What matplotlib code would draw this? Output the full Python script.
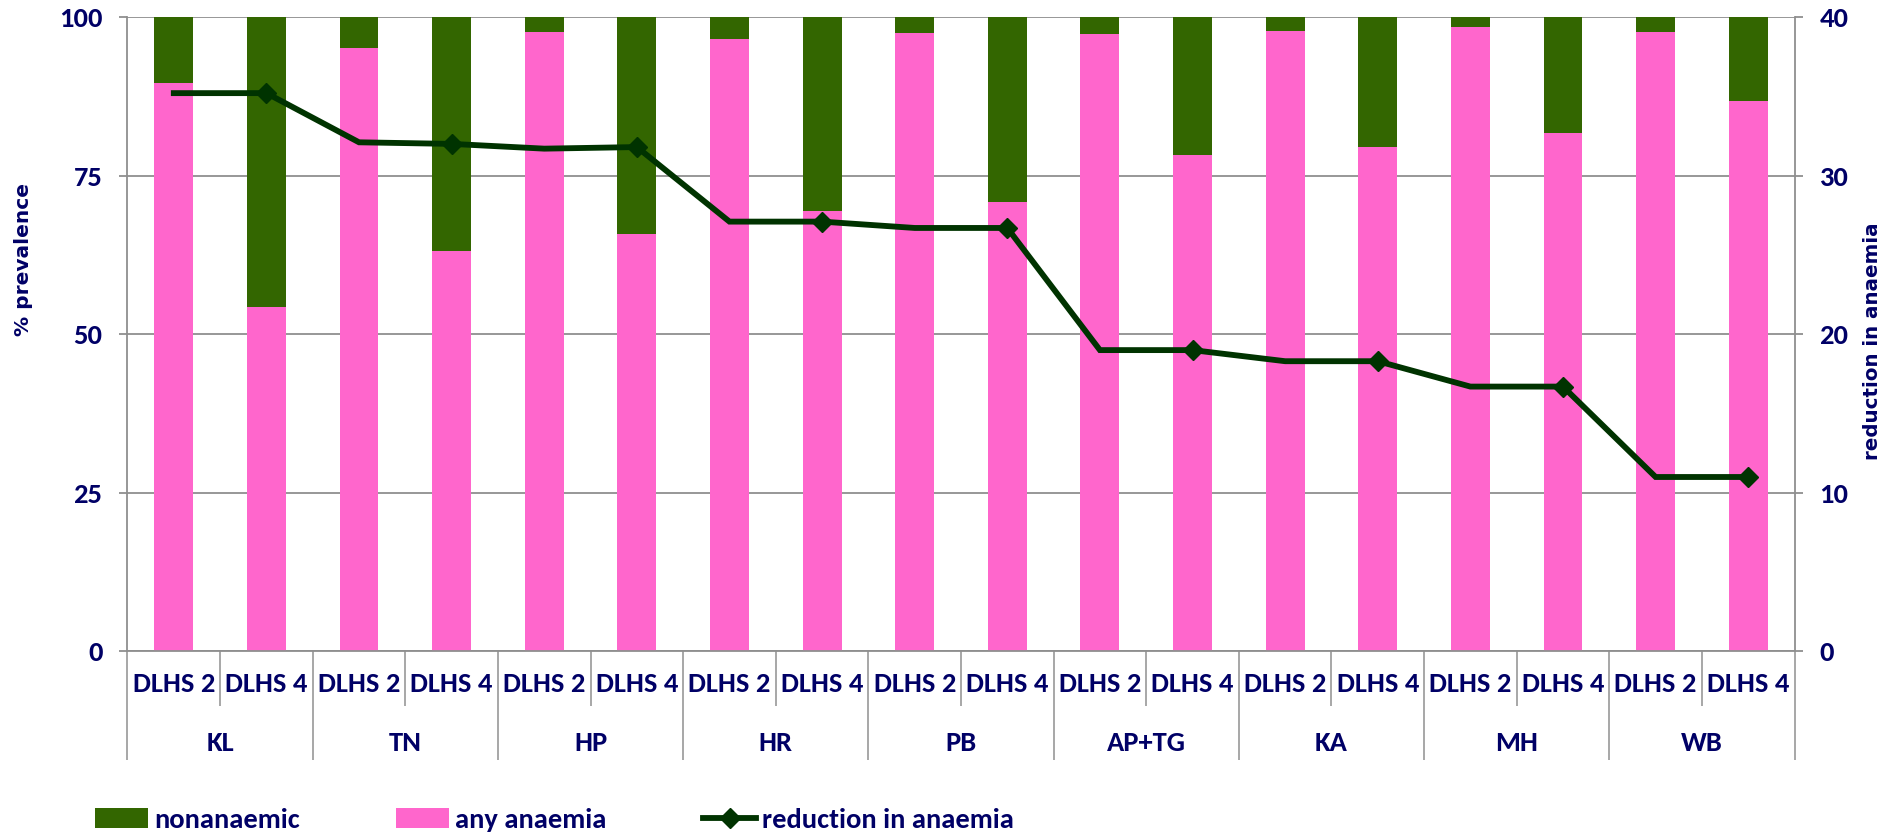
import matplotlib
matplotlib.use("Agg")
import matplotlib.pyplot as plt
from matplotlib import font_manager
from matplotlib.patches import Patch
from matplotlib.lines import Line2D
import numpy as np

states = ['KL', 'TN', 'HP', 'HR', 'PB', 'AP+TG', 'KA', 'MH', 'WB']
rounds = ['DLHS 2', 'DLHS 4']

# one value per bar: state x round, in order
any_anaemia = [89.6, 54.3, 95.1, 63.1, 97.6, 65.8, 96.6, 69.5, 97.5,
               70.8, 97.3, 78.3, 97.8, 79.5, 98.5, 81.7, 97.7, 86.7]
nonanaemic = [10.4, 45.7, 4.9, 36.9, 2.4, 34.2, 3.4, 30.5, 2.5,
              29.2, 2.7, 21.7, 2.2, 20.5, 1.5, 18.3, 2.3, 13.3]
reduction = [35.2, 35.2, 32.1, 32.0, 31.7, 31.8, 27.1, 27.1, 26.7,
             26.7, 19.0, 19.0, 18.3, 18.3, 16.7, 16.7, 11.0, 11.0]

GREEN = '#336600'
PINK = '#FF66CC'
LINE = '#003300'
NAVY = '#000066'
GRID = '#8f8f8f'

# compact sans for ticks and legend, pick the first one installed
names = {f.name for f in font_manager.fontManager.ttflist}
narrow = 'DejaVu Sans'
for cand in ['Carlito', 'Liberation Sans Narrow', 'Lato', 'Roboto']:
    if cand in names:
        narrow = cand
        break
plt.rcParams['font.family'] = [narrow, 'DejaVu Sans']
plt.rcParams['font.weight'] = 'bold'

FS = 20.5

fig = plt.figure(figsize=(18.86, 8.33), dpi=100)
ax = fig.add_axes([0.0676, 0.2179, 0.8839, 0.7617])

x = np.arange(len(any_anaemia))
bw = 0.42
ax.bar(x, any_anaemia, bw, color=PINK, zorder=2, label='any anaemia')
ax.bar(x, nonanaemic, bw, bottom=any_anaemia, color=GREEN, zorder=2, label='nonanaemic')

ax.set_xlim(-0.5, len(x) - 0.5)
ax.set_ylim(0, 100)
ax.set_yticks([0, 25, 50, 75, 100])
ax.yaxis.grid(True, color=GRID, lw=1.3, zorder=0)
ax.set_axisbelow(True)

ax.set_xticks(x)
ax.set_xticklabels([rounds[i % 2] for i in x])
ax.tick_params(axis='x', length=0, pad=15, labelsize=FS, labelcolor=NAVY)
ax.tick_params(axis='y', length=6, width=1.3, color=GRID, pad=12,
               labelsize=FS, labelcolor=NAVY)

for side in ['left', 'right', 'bottom']:
    ax.spines[side].set_color(GRID)
    ax.spines[side].set_linewidth(1.3)
ax.spines['top'].set_visible(False)

# category separators below the axis
trans = ax.get_xaxis_transform()
n_states = len(states)
inner = [2 * i + 0.5 for i in range(n_states)]
outer = [2 * i - 0.5 for i in range(n_states + 1)]
ax.vlines(inner, -0.086, 0, transform=trans, color=GRID, lw=1.1, clip_on=False)
ax.vlines(outer, -0.171, 0, transform=trans, color=GRID, lw=1.1, clip_on=False)
for i, s in enumerate(states):
    ax.text(2 * i + 0.5, -0.144, s, transform=trans, ha='center', va='center',
            fontsize=FS, color=NAVY, fontweight='bold')

# reduction line on secondary axis
ax2 = ax.twinx()
ax2.set_ylim(0, 40)
ax2.set_yticks([0, 10, 20, 30, 40])
ax2.plot(x, reduction, color=LINE, lw=4.2, marker='D', markersize=10,
         markevery=slice(1, None, 2), zorder=3, solid_joinstyle='miter')
ax2.tick_params(axis='y', length=6, width=1.3, color=GRID, pad=12,
                labelsize=FS, labelcolor=NAVY)
for side in ['left', 'right', 'bottom', 'top']:
    ax2.spines[side].set_visible(False)

fig.text(0.0122, 0.688, '% prevalence', rotation=90, ha='center', va='center',
         family='DejaVu Sans', fontweight='bold', fontsize=14.5, color=NAVY)
fig.text(0.9931, 0.591, 'reduction in anaemia', rotation=90, ha='center', va='center',
         family='DejaVu Sans', fontweight='bold', fontsize=14.3, color=NAVY)

handles = [Patch(facecolor=GREEN, label='nonanaemic'),
           Patch(facecolor=PINK, label='any anaemia'),
           Line2D([0], [0], color=LINE, lw=4.2, marker='D', markersize=10,
                  label='reduction in anaemia')]
leg = fig.legend(handles=handles, loc='center left', bbox_to_anchor=(0.0503, 0.0156),
                 ncol=3, frameon=False, fontsize=FS, handlelength=1.85,
                 handleheight=0.7, handletextpad=0.22, columnspacing=3.4,
                 borderpad=0, borderaxespad=0)
for t in leg.get_texts():
    t.set_color(NAVY)

fig.savefig('out.png', dpi=100)
